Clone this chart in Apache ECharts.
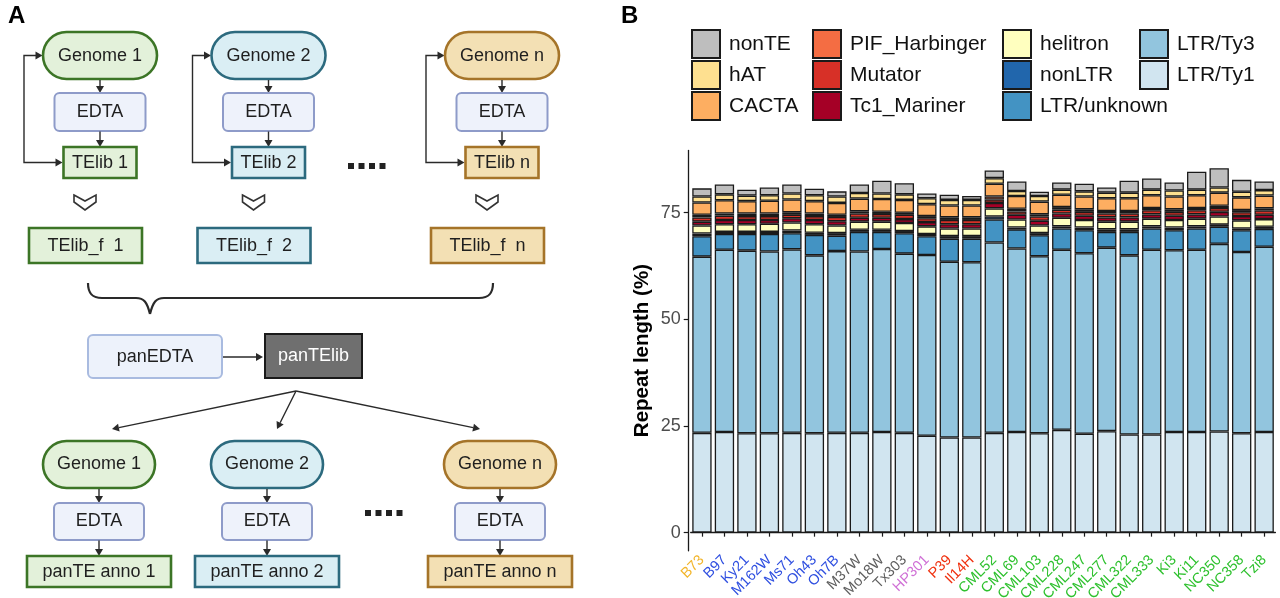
<!DOCTYPE html>
<html><head><meta charset="utf-8">
<script src="https://cdn.jsdelivr.net/npm/echarts@6/dist/echarts.min.js"></script>
<style>html,body{margin:0;padding:0;background:#fff}#c{width:1280px;height:598px}</style>
</head><body><div id="c"></div>
<script>
// ---------------- DATA ----------------
const categories = ['B73','B97','Ky21','M162W','Ms71','Oh43','Oh7B','M37W','Mo18W','Tx303','HP301','P39','Il14H','CML52','CML69','CML103','CML228','CML247','CML277','CML322','CML333','Ki3','Ki11','NC350','NC358','Tzi8'];
const categoryGroup = ['gold','blue','blue','blue','blue','blue','blue','gray','gray','gray','pink','red','red','green','green','green','green','green','green','green','green','green','green','green','green','green'];
const yTicks = [0, 25, 50, 75];

const LTR_Ty1      = [23.4,23.6,23.3,23.3,23.4,23.3,23.4,23.4,23.6,23.4,22.7,22.3,22.3,23.4,23.6,23.3,24.1,23.2,23.8,23.0,23.0,23.6,23.6,23.7,23.3,23.6];
const LTR_Ty3      = [41.3,42.7,42.8,42.6,43.0,41.7,42.6,42.5,42.9,42.0,42.4,41.2,41.1,44.6,43.0,41.5,42.2,42.3,43.0,42.0,43.3,42.6,42.7,44.0,42.5,43.4];
const LTR_unknown  = [4.8,3.7,3.9,4.1,3.8,4.8,3.6,4.6,4.0,4.8,4.4,5.4,5.5,5.4,4.5,4.9,5.0,5.4,3.7,5.5,5.0,4.7,5.0,4.0,5.1,4.2];
const nonLTR       = [0.6,0.5,0.5,0.5,0.6,0.5,0.6,0.5,0.5,0.5,0.5,0.6,0.6,0.7,0.4,0.5,0.5,0.6,0.6,0.6,0.5,0.6,0.5,0.5,0.4,0.5];
const helitron     = [1.9,1.8,1.8,1.9,1.9,2.0,1.8,1.9,1.9,1.9,1.8,1.8,1.8,1.9,1.9,1.8,2.0,1.8,1.8,1.8,1.8,1.8,1.8,1.9,1.9,1.8];
const Tc1_Mariner  = [0.9,1.0,1.0,0.9,1.0,1.0,1.0,0.9,0.9,0.9,1.0,1.0,1.0,1.3,1.1,1.1,1.0,1.0,1.0,1.0,1.0,1.0,1.0,1.1,1.0,1.0];
const Mutator      = [1.0,1.0,0.9,0.9,0.8,0.9,1.0,1.0,0.9,1.0,0.9,1.0,1.0,0.8,0.8,1.0,0.9,0.9,0.9,0.9,1.0,0.9,1.0,0.9,0.9,1.0];
const PIF_Harbinger= [0.6,0.5,0.6,0.6,0.6,0.6,0.5,0.5,0.5,0.5,0.5,0.6,0.6,0.7,0.6,0.5,0.6,0.6,0.6,0.6,0.5,0.6,0.5,0.5,0.5,0.5];
const CACTA        = [2.9,3.1,2.9,3.0,3.0,2.9,2.8,3.0,3.0,3.0,2.8,2.8,2.8,3.0,3.0,3.0,2.9,3.0,3.0,3.0,3.0,3.0,3.0,3.1,3.0,3.0];
const hAT          = [1.4,1.4,1.3,1.3,1.4,1.4,1.5,1.3,1.3,1.3,1.4,1.3,1.3,1.3,1.2,1.3,1.2,1.2,1.3,1.3,1.3,1.4,1.3,1.2,1.3,1.3];
const nonTE        = [1.9,2.3,1.4,1.8,2.1,1.5,1.2,2.0,3.0,2.6,1.1,1.2,0.9,1.8,2.2,1.0,1.7,1.8,1.2,2.8,2.6,1.9,4.2,4.5,2.8,2.0];

// stacking order bottom -> top
const seriesNames  = ['LTR/Ty1','LTR/Ty3','LTR/unknown','nonLTR','helitron','Tc1_Mariner','Mutator','PIF_Harbinger','CACTA','hAT','nonTE'];
const seriesValues = [LTR_Ty1, LTR_Ty3, LTR_unknown, nonLTR, helitron, Tc1_Mariner, Mutator, PIF_Harbinger, CACTA, hAT, nonTE];
const seriesColors = ['#D1E5F0','#92C5DE','#4393C3','#2166AC','#FFFFBF','#A50026','#D73027','#F46D43','#FDAE61','#FEE090','#BEBEBE'];
const legendColumns = [['nonTE','hAT','CACTA'],['PIF_Harbinger','Mutator','Tc1_Mariner'],['helitron','nonLTR','LTR/unknown'],['LTR/Ty3','LTR/Ty1']];
const groupColors = {gold:'#F2B52A', blue:'#2F4FE0', gray:'#5E5E5E', pink:'#D070D6', red:'#F0300E', green:'#2EC12E'};

// flowchart texts (panel A)
const genomeLabels = ['Genome 1','Genome 2','Genome n'];
const telibLabels  = ['TElib 1','TElib 2','TElib n'];
const telibFLabels = ['TElib_f  1','TElib_f  2','TElib_f  n'];
const annoLabels   = ['panTE anno 1','panTE anno 2','panTE anno n'];

// ---------------- PANEL A (diagram) ----------------
const FONT = 'Liberation Sans';
const palettes = [
  {fill:'#E3F1DA', stroke:'#3C7526'},
  {fill:'#DAEEF4', stroke:'#2C6A7E'},
  {fill:'#F3E0B4', stroke:'#A57429'}
];
const G = [];
function rect(x,y,w,h,r,fill,stroke,lw){G.push({type:'rect',silent:true,shape:{x:x,y:y,width:w,height:h,r:r},style:{fill:fill,stroke:stroke,lineWidth:lw}});}
function txt(x,y,t,size,color,weight){G.push({type:'text',silent:true,x:x,y:y,style:{text:t,fontSize:size,fontFamily:FONT,fontWeight:weight||'normal',fill:color,align:'center',verticalAlign:'middle',textAlign:'center',textVerticalAlign:'middle'}});}
function line(pts,color,lw){G.push({type:'polyline',silent:true,shape:{points:pts},style:{stroke:color,lineWidth:lw,fill:null}});}
function bez(x1,y1,cx1,cy1,cx2,cy2,x2,y2,color,lw){G.push({type:'bezierCurve',silent:true,shape:{x1:x1,y1:y1,cpx1:cx1,cpy1:cy1,cpx2:cx2,cpy2:cy2,x2:x2,y2:y2},style:{stroke:color,lineWidth:lw,fill:null}});}
function head(x1,y1,x2,y2,L,W,color){
  const dx=x2-x1, dy=y2-y1, d=Math.sqrt(dx*dx+dy*dy), ux=dx/d, uy=dy/d;
  const bx=x2-ux*L, by=y2-uy*L;
  G.push({type:'polygon',silent:true,shape:{points:[[x2,y2],[bx-uy*W/2,by+ux*W/2],[bx+uy*W/2,by-ux*W/2]]},style:{fill:color}});
  return [bx,by];
}
function arrow(x1,y1,x2,y2,color){
  color=color||'#2a2a2a';
  const b=head(x1,y1,x2,y2,7,8,color);
  line([[x1,y1],b],color,1.4);
}
const topCenters = [100, 268.5, 502];
const botCenters = [99, 267, 500];

topCenters.forEach((c,i)=>{
  const p = palettes[i];
  const lx = c-76;
  line([[c-43,162.5],[lx,162.5],[lx,55.5],[c-63,55.5]],'#2a2a2a',1.4);
  head(c-60,162.5,c-37.5,162.5,7,8,'#2a2a2a');
  head(c-80,55.5,c-57.5,55.5,7,8,'#2a2a2a');
  rect(c-57,32,114,47,23.5,p.fill,p.stroke,2.6);
  txt(c,56,genomeLabels[i],18,'#1f1f1f');
  arrow(c,80,c,93);
  rect(c-45.5,93,91,38,5,'#EEF2FB','#8E9BC9',2);
  txt(c,112.5,'EDTA',18,'#1f1f1f');
  arrow(c,131.5,c,147);
  rect(c-36.5,147,73,31,0,p.fill,p.stroke,2.6);
  txt(c,163,telibLabels[i],18,'#1f1f1f');
  const cx=c-15, cy=203;
  G.push({type:'polygon',silent:true,shape:{points:[[cx-11,cy-8],[cx,cy-2],[cx+11,cy-8],[cx+11,cy-1],[cx,cy+7],[cx-11,cy-1]]},style:{fill:'#fff',stroke:'#333',lineWidth:1.6,lineJoin:'miter'}});
  rect(c-71,228,113,35,0,p.fill,p.stroke,2.6);
  txt(c-14.5,246,telibFLabels[i],18,'#1f1f1f');
});
[348,358.5,369,379.5].forEach(x=>rect(x,163,6,6,0,'#222',null,0));
[365,375.5,386,396.5].forEach(x=>rect(x,510,6,6,0,'#222',null,0));
// brace
const BC='#2a2a2a', BW=2.2;
bez(88,283, 88,292, 91,298, 102,298, BC,BW);
line([[102,298],[136,298]],BC,BW);
bez(136,298, 144,298, 147,302, 150,314, BC,BW);
bez(150,314, 153,302, 156,298, 164,298, BC,BW);
line([[164,298],[479,298]],BC,BW);
bez(479,298, 490,298, 493,292, 493,283, BC,BW);
// panEDTA -> panTElib
rect(88,335,134,43,5,'#EDF2FB','#A9BBE0',2);
txt(155,357,'panEDTA',18,'#1f1f1f');
arrow(223,357,263,357);
rect(265,334,97,44,0,'#6F6F6F','#1a1a1a',2);
txt(313.5,356,'panTElib',18,'#ffffff');
arrow(296,391,112,429);
arrow(296,391,277,429);
arrow(296,391,480,429);
botCenters.forEach((c,i)=>{
  const p = palettes[i];
  rect(c-56,441,112,47,23.5,p.fill,p.stroke,2.6);
  txt(c,464.5,genomeLabels[i],18,'#1f1f1f');
  arrow(c,489,c,503);
  rect(c-45,503,90,37,5,'#EEF2FB','#8E9BC9',2);
  txt(c,521.5,'EDTA',18,'#1f1f1f');
  arrow(c,540.5,c,556);
  rect(c-72,556,144,31,0,p.fill,p.stroke,2.6);
  txt(c,572,annoLabels[i],18,'#1f1f1f');
});
G.push({type:'text',silent:true,x:8,y:16,style:{text:'A',fontSize:24,fontWeight:'bold',fontFamily:FONT,fill:'#000',align:'left',verticalAlign:'middle',textAlign:'left',textVerticalAlign:'middle'}});
G.push({type:'text',silent:true,x:621,y:16,style:{text:'B',fontSize:24,fontWeight:'bold',fontFamily:FONT,fill:'#000',align:'left',verticalAlign:'middle',textAlign:'left',textVerticalAlign:'middle'}});

// ---------------- PANEL B (chart) ----------------
const legendLefts = [691, 812, 1002, 1139];
const legends = legendColumns.map((names,i)=>({
  show:true, orient:'vertical', left:legendLefts[i], top:29, padding:0,
  itemWidth:28, itemHeight:28, itemGap:1, icon:'rect', selectedMode:false,
  data:names,
  textStyle:{fontSize:21, color:'#111', fontFamily:FONT, padding:[0,0,0,4]}
}));

const series = seriesNames.map((n,i)=>({
  name:n, type:'bar', stack:'total', data:seriesValues[i], barWidth:'86%',
  itemStyle:{color:seriesColors[i], borderColor:'#1a1a1a', borderWidth:1.3},
  emphasis:{disabled:true}
}));

const chart = echarts.init(document.getElementById('c'), null, {renderer:'canvas'});
chart.setOption({
  animation:false,
  backgroundColor:'#fff',
  textStyle:{fontFamily:FONT},
  graphic:{elements:G},
  legend:legends,
  grid:{left:690.7, right:4.6, top:150.4, bottom:47.2, containLabel:false, outerBoundsMode:'none'},
  xAxis:{
    type:'category', data:categories,
    axisLine:{show:true, lineStyle:{color:'#1a1a1a', width:1.3}},
    axisTick:{show:true, alignWithLabel:true, length:4, lineStyle:{color:'#1a1a1a', width:1.2}},
    axisLabel:{rotate:45, fontSize:14.5, fontFamily:FONT, margin:7, interval:0, hideOverlap:false,
      color:function(v,idx){return groupColors[categoryGroup[idx]];}}
  },
  yAxis:{
    type:'value', min:-4.25, max:89.6, offset:2,
    name:'Repeat length (%)', nameLocation:'middle', nameGap:36, nameRotate:90,
    nameTextStyle:{fontSize:20.5, fontWeight:'bold', color:'#000', fontFamily:FONT},
    splitLine:{show:false},
    axisLine:{show:true, lineStyle:{color:'#1a1a1a', width:1.3}},
    axisTick:{show:true, length:5, customValues:yTicks, lineStyle:{color:'#1a1a1a', width:1.2}},
    axisLabel:{fontSize:18, color:'#4D4D4D', fontFamily:FONT, margin:8, customValues:yTicks}
  },
  series:series
});
</script>
</body></html>
